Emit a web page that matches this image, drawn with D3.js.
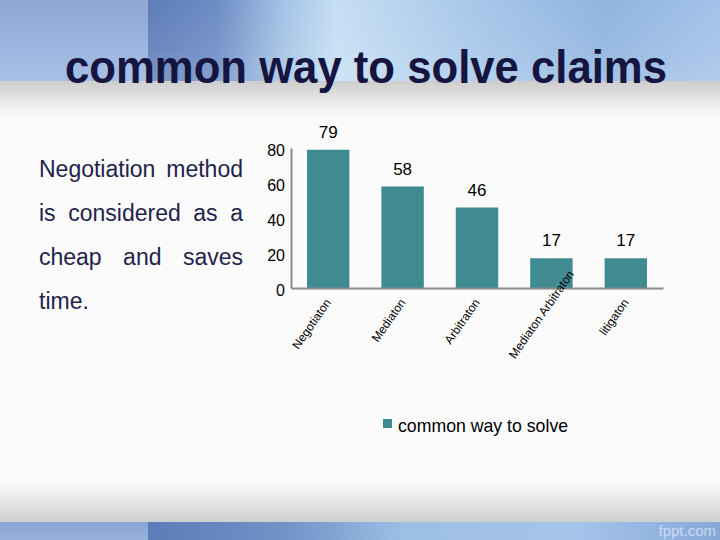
<!DOCTYPE html>
<html><head><meta charset="utf-8">
<script src="https://cdn.jsdelivr.net/npm/d3@7"></script>
<style>html,body{margin:0;padding:0;background:#fbfbfb;}svg{display:block;}</style>
</head><body>
<script>
const categories = ["Negotiaton", "Mediaton", "Arbitraton", "Mediaton Arbitraton", "litigaton"];
const values = [79, 58, 46, 17, 17];
const yTicks = [0, 20, 40, 60, 80];
const seriesName = "common way to solve";
const titleText = "common way to solve claims";
const sideLines = ["Negotiation method", "is considered as a", "cheap and saves", "time."];

const W = 720, H = 540;
const svg = d3.select("body").append("svg").attr("width", W).attr("height", H);
const defs = svg.append("defs");
function grad(id, x1, y1, x2, y2, stops) {
  const g = defs.append("linearGradient").attr("id", id)
    .attr("x1", x1).attr("y1", y1).attr("x2", x2).attr("y2", y2);
  stops.forEach(s => g.append("stop").attr("offset", s[0]).attr("stop-color", s[1]).attr("stop-opacity", s[2] == null ? 1 : s[2]));
}
grad("topL", 0, 0, 0, 1, [[0, "#8fa6d4"], [1, "#a6c0e6"]]);
grad("topR", 0, 0, 1, 0, [[0, "#5e7db8"], [0.12, "#6c8cc4"], [0.24, "#a4c4e6"], [0.33, "#c6def3"], [0.55, "#a9c9ea"], [0.8, "#90b4df"], [1, "#a2c2e8"]]);
grad("topV", 0, 0, 0, 1, [[0, "#ffffff", 0.0], [0.6, "#ffffff", 0.08], [1, "#ffffff", 0.18]]);
grad("shadeTop", 0, 0, 0, 1, [[0, "#cdcdcd"], [1, "#fbfbfb"]]);
grad("shadeBot", 0, 0, 0, 1, [[0, "#fbfbfb"], [1, "#cfcfcf"]]);
grad("botL", 0, 0, 0, 1, [[0, "#8aa4d4"], [1, "#98b2de"]]);
grad("botR", 0, 0, 1, 0, [[0, "#5b7cb7"], [0.25, "#7394c8"], [0.45, "#9ebfe4"], [0.75, "#a4c4ea"], [1, "#86a8d8"]]);

// background
svg.append("rect").attr("width", W).attr("height", H).attr("fill", "#fbfbfb");
svg.append("rect").attr("x", 0).attr("y", 0).attr("width", 148).attr("height", 81).attr("fill", "url(#topL)");
svg.append("rect").attr("x", 148).attr("y", 0).attr("width", W - 148).attr("height", 81).attr("fill", "url(#topR)");
svg.append("rect").attr("x", 148).attr("y", 0).attr("width", W - 148).attr("height", 81).attr("fill", "url(#topV)");
svg.append("rect").attr("x", 0).attr("y", 81).attr("width", W).attr("height", 36).attr("fill", "url(#shadeTop)");
svg.append("rect").attr("x", 0).attr("y", 482).attr("width", W).attr("height", 40).attr("fill", "url(#shadeBot)");
svg.append("rect").attr("x", 0).attr("y", 522).attr("width", 148).attr("height", 18).attr("fill", "url(#botL)");
svg.append("rect").attr("x", 148).attr("y", 522).attr("width", W - 148).attr("height", 18).attr("fill", "url(#botR)");
svg.append("text").attr("x", 716).attr("y", 536).attr("text-anchor", "end")
  .attr("font-family", "Liberation Sans, Arial, sans-serif").attr("font-size", 15)
  .attr("fill", "#ffffff").attr("fill-opacity", 0.55).text("fppt.com");

// title
svg.append("text").attr("x", 65).attr("y", 83)
  .attr("font-family", "Liberation Sans, Arial, sans-serif").attr("font-size", 47).attr("font-weight", "bold")
  .attr("fill", "#15153f").attr("textLength", 602).attr("lengthAdjust", "spacingAndGlyphs")
  .text(titleText);

// side text (justified)
const sx0 = 39, sx1 = 243, sy0 = 177, sdy = 44;
sideLines.forEach((line, i) => {
  const words = line.split(" ");
  const g = svg.append("g");
  const y = sy0 + i * sdy;
  const nodes = words.map(w => g.append("text").attr("y", y)
    .attr("font-family", "Liberation Sans, Arial, sans-serif").attr("font-size", 23)
    .attr("fill", "#23234b").text(w));
  const widths = nodes.map(n => n.node().getComputedTextLength());
  const justify = i < sideLines.length - 1 && words.length > 1;
  const total = d3.sum(widths);
  const gap = justify ? (sx1 - sx0 - total) / (words.length - 1) : 6.4;
  let x = sx0;
  nodes.forEach((n, k) => { n.attr("x", x); x += widths[k] + gap; });
});

// chart
const x = d3.scaleBand().domain(categories).range([291, 663]).paddingInner(0.43).paddingOuter(0.215);
const y = d3.scaleLinear().domain([0, 80]).range([288, 148]);
const barColor = "#3f8b91";
const font = "Liberation Sans, Arial, sans-serif";

svg.append("g").selectAll("rect").data(values).join("rect")
  .attr("x", (d, i) => x(categories[i])).attr("y", d => y(d))
  .attr("width", x.bandwidth()).attr("height", d => y(0) - y(d))
  .attr("fill", barColor);

svg.append("g").selectAll("text").data(values).join("text")
  .attr("x", (d, i) => x(categories[i]) + x.bandwidth() / 2).attr("y", d => y(d) - 12)
  .attr("text-anchor", "middle").attr("font-family", font).attr("font-size", 17).attr("fill", "#000")
  .text(d => d);

const yAxis = svg.append("g").attr("transform", "translate(291,0)")
  .call(d3.axisLeft(y).tickValues(yTicks).tickSize(0).tickPadding(6).tickFormat(d3.format("d")));
yAxis.select(".domain").attr("stroke", "#8a8a8a").attr("stroke-width", 2);
yAxis.selectAll("text").attr("font-family", font).attr("font-size", 16).attr("fill", "#000").attr("dy", "0.45em");

const xAxis = svg.append("g").attr("transform", "translate(0,288)")
  .call(d3.axisBottom(x).tickSize(0).tickFormat(""));
xAxis.select(".domain").attr("stroke", "#8a8a8a").attr("stroke-width", 2);

// rotated category labels, end-anchored under each bar, shifted along their direction if too long
const ang = 55, rad = ang * Math.PI / 180, labelY = 300, maxStartY = 357;
svg.append("g").selectAll("text").data(categories).join("text")
  .attr("font-family", font).attr("font-size", 12).attr("fill", "#000")
  .attr("text-anchor", "end").attr("dy", "0.35em")
  .text(d => d)
  .each(function (d) {
    const L = this.getComputedTextLength();
    let cx = x(d) + x.bandwidth() / 2, cy = labelY;
    const startY = cy + L * Math.sin(rad);
    if (startY > maxStartY) {
      const s = (startY - maxStartY) / Math.sin(rad);
      cx += s * Math.cos(rad); cy -= s * Math.sin(rad);
    }
    d3.select(this).attr("transform", `translate(${cx},${cy}) rotate(${-ang})`);
  });

// legend
svg.append("rect").attr("x", 383).attr("y", 419).attr("width", 9).attr("height", 9).attr("fill", barColor);
svg.append("text").attr("x", 398).attr("y", 431.5).attr("font-family", font).attr("font-size", 17.7)
  .attr("fill", "#000").text(seriesName);
</script>
</body></html>
